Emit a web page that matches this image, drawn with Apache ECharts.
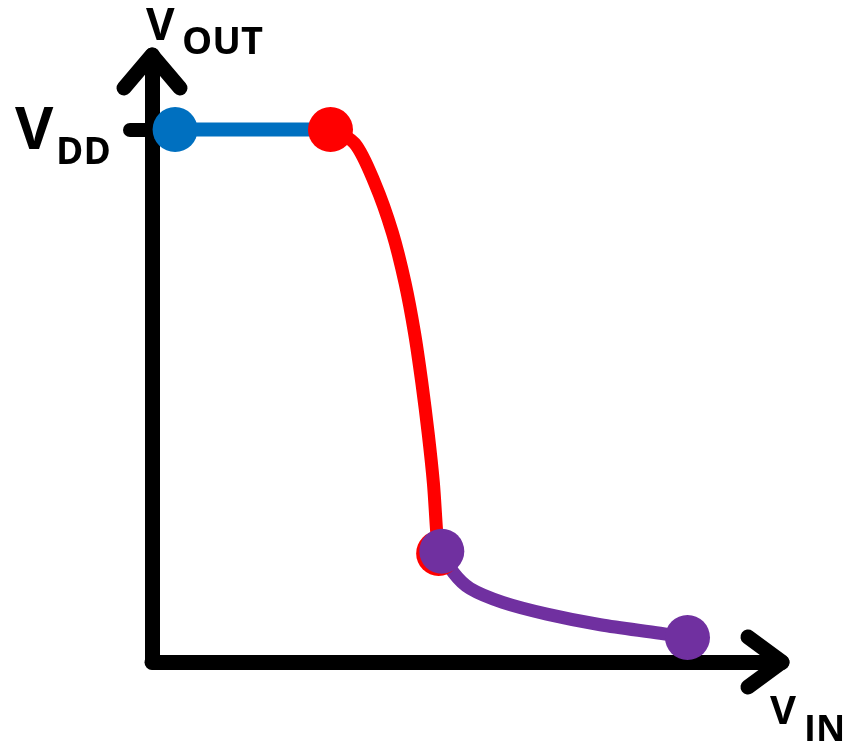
<!DOCTYPE html>
<html>
<head>
<meta charset="utf-8">
<script src="https://cdn.jsdelivr.net/npm/echarts@6/dist/echarts.min.js"></script>
<style>
  html, body { margin: 0; padding: 0; background: #fff; }
  #chart { width: 855px; height: 743px; }
</style>
</head>
<body>
<div id="chart"></div>
<script>
// CMOS inverter transfer curve, volts (V_DD = 5)
const VDD = 5
const X_MAX = 6
const Y_MAX = 5.7

const flatPart = [[0.22, 5.0], [1.70, 5.0]]
const transition = [
  [1.70, 5.00], [1.93, 4.87], [2.12, 4.50], [2.29, 4.03], [2.41, 3.56],
  [2.50, 3.09], [2.57, 2.62], [2.63, 2.15], [2.68, 1.68], [2.71, 1.24], [2.73, 1.02]
]
const tail = [
  [2.76, 1.04], [2.87, 0.84], [3.03, 0.69], [3.34, 0.56], [3.76, 0.45],
  [4.27, 0.35], [4.84, 0.27], [5.10, 0.23]
]
const yTickValues = [VDD]

const BLUE = '#0070C0'
const RED = '#FF0000'
const PURPLE = '#7030A0'
const FONT = '"Open Sans", "DejaVu Sans", sans-serif'

const chart = echarts.init(document.getElementById('chart'))

const dots = [
  { value: flatPart[0], itemStyle: { color: BLUE } },
  { value: transition[0], itemStyle: { color: RED } },
  { value: transition[transition.length - 1], itemStyle: { color: RED } },
  { value: tail[0], itemStyle: { color: PURPLE } },
  { value: tail[tail.length - 1], itemStyle: { color: PURPLE } }
]

const lineSeries = (data, color, width) => ({
  type: 'line',
  data: data,
  smooth: 0.3,
  showSymbol: false,
  z: 2,
  lineStyle: { color: color, width: width, cap: 'round', join: 'round' },
  silent: true
})

chart.setOption({
  animation: false,
  grid: { left: 152, right: 73, top: 55, bottom: 81, outerBoundsMode: 'none' },
  xAxis: {
    type: 'value',
    min: 0,
    max: X_MAX,
    axisLine: { lineStyle: { color: '#000', width: 15, cap: 'round' } },
    axisTick: { show: false },
    axisLabel: { show: false },
    splitLine: { show: false }
  },
  yAxis: {
    type: 'value',
    min: 0,
    max: Y_MAX,
    axisLine: { show: true, lineStyle: { color: '#000', width: 15, cap: 'round' } },
    axisTick: {
      show: true,
      customValues: yTickValues,
      length: 22,
      lineStyle: { color: '#000', width: 14, cap: 'round' }
    },
    axisLabel: { show: false },
    splitLine: { show: false }
  },
  series: [
    lineSeries(flatPart, BLUE, 14),
    lineSeries(transition, RED, 13),
    lineSeries(tail, PURPLE, 13),
    {
      type: 'scatter',
      data: dots,
      symbolSize: 45,
      z: 3,
      itemStyle: { opacity: 1 },
      silent: true
    }
  ]
})

// arrow heads and axis names, placed from the axis scales
const tipX = chart.convertToPixel({ gridIndex: 0 }, [X_MAX, 0])
const tipY = chart.convertToPixel({ gridIndex: 0 }, [0, Y_MAX])
const vddY = chart.convertToPixel({ yAxisIndex: 0 }, VDD)

const chevron = (pts) => ({
  type: 'polyline',
  z: 5,
  shape: { points: pts },
  style: { stroke: '#000', lineWidth: 15, fill: null, lineCap: 'round', lineJoin: 'round' },
  silent: true
})

const txt = (x, y, text, size) => ({
  type: 'text',
  z: 5,
  style: {
    x: x, y: y, text: text,
    font: 'bold ' + size + 'px ' + FONT,
    fill: '#000',
    align: 'left',
    verticalAlign: 'middle'
  },
  silent: true
})

chart.setOption({
  graphic: [
    chevron([[tipX[0] - 34, tipX[1] - 25], tipX, [tipX[0] - 34, tipX[1] + 25]]),
    chevron([[tipY[0] - 28, tipY[1] + 33], tipY, [tipY[0] + 28, tipY[1] + 33]]),
    txt(146, 27, 'V', 44),
    txt(182, 43, 'OUT', 38),
    txt(15, vddY + 3, 'V', 59),
    txt(56, vddY + 24, 'DD', 37),
    txt(770, 713, 'V', 40),
    txt(804, 731, 'IN', 36)
  ]
})
</script>
</body>
</html>
